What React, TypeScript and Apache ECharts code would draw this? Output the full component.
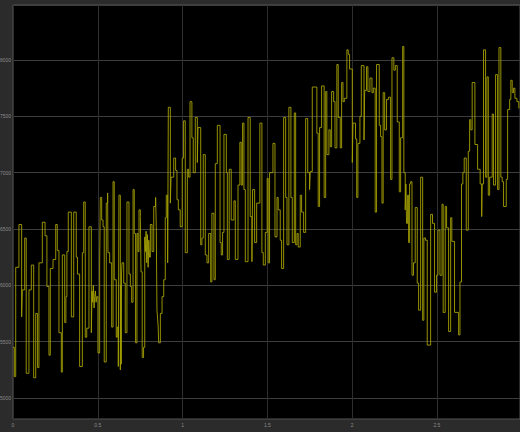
import React, { useEffect, useRef } from "react";
import * as echarts from "echarts";

// Time (s) and value of each held sample, per half second
const seg1Times = [0, 0.008, 0.016, 0.035, 0.051, 0.055, 0.069, 0.078, 0.094, 0.108, 0.122, 0.134, 0.145, 0.153, 0.173, 0.189, 0.2, 0.212, 0.22, 0.236, 0.252, 0.261, 0.271, 0.285, 0.291, 0.305, 0.312, 0.318, 0.326, 0.344, 0.358, 0.373, 0.38, 0.393, 0.409, 0.417, 0.426, 0.435, 0.448, 0.462, 0.466, 0.47, 0.474, 0.478, 0.482, 0.486, 0.49, 0.494];
const seg1Values = [5450, 5190, 6160, 6540, 5720, 5960, 6420, 5220, 5960, 6180, 5180, 5750, 5270, 6200, 6560, 6440, 5990, 5380, 6150, 6230, 6540, 6310, 5580, 5230, 6270, 5670, 5900, 6300, 6650, 5720, 6650, 6250, 6100, 5280, 6290, 6740, 5540, 5620, 6520, 5580, 5950, 5850, 6000, 5800, 5900, 5950, 5850, 5900];

const seg2Times = [0.501, 0.511, 0.515, 0.523, 0.531, 0.538, 0.55, 0.558, 0.56, 0.57, 0.582, 0.59, 0.597, 0.609, 0.615, 0.621, 0.625, 0.633, 0.636, 0.638, 0.64, 0.643, 0.653, 0.662, 0.672, 0.684, 0.692, 0.7, 0.708, 0.715, 0.723, 0.731, 0.737, 0.743, 0.751, 0.755, 0.762, 0.77, 0.777, 0.781, 0.785, 0.789, 0.793, 0.797, 0.801, 0.805, 0.81, 0.82, 0.83, 0.841, 0.845, 0.849, 0.853, 0.856, 0.859, 0.869, 0.879, 0.889, 0.898, 0.904, 0.912, 0.916, 0.928, 0.932, 0.948, 0.959, 0.967, 0.975, 0.986, 0.998];
const seg2Values = [5400, 6180, 6780, 6580, 6520, 5320, 6730, 6820, 6290, 6200, 5630, 6920, 6050, 5540, 5630, 5280, 6800, 5250, 6000, 5300, 6100, 6200, 6020, 5580, 6740, 6100, 5990, 5850, 6850, 6460, 5490, 6460, 6300, 6670, 6610, 6120, 5360, 5450, 6430, 6300, 6480, 6200, 6450, 6160, 6400, 6250, 6540, 6300, 6700, 6780, 6520, 5780, 5700, 5640, 5490, 5750, 5900, 6050, 6600, 6800, 6200, 7580, 6730, 6960, 7130, 7020, 6760, 6670, 6520, 7130];

const seg3Times = [1.006, 1.016, 1.028, 1.036, 1.044, 1.055, 1.063, 1.075, 1.087, 1.091, 1.107, 1.114, 1.122, 1.134, 1.144, 1.154, 1.166, 1.173, 1.185, 1.193, 1.205, 1.221, 1.228, 1.236, 1.244, 1.258, 1.264, 1.275, 1.287, 1.303, 1.311, 1.327, 1.338, 1.346, 1.354, 1.362, 1.37, 1.386, 1.399, 1.409, 1.413, 1.425, 1.437, 1.456, 1.468, 1.476, 1.488, 1.499];
const seg3Values = [7460, 6290, 7030, 6960, 7630, 7310, 7000, 7490, 7090, 7400, 6360, 6420, 7160, 6270, 6200, 6460, 6030, 6640, 6050, 7080, 7420, 6380, 6270, 6470, 7340, 7000, 6230, 7030, 6580, 6750, 6230, 6890, 7270, 6890, 7440, 6850, 6210, 7490, 6610, 6210, 6850, 6380, 6730, 7440, 6290, 6180, 6470, 6950];

const seg4Times = [1.505, 1.513, 1.533, 1.545, 1.557, 1.564, 1.576, 1.584, 1.596, 1.608, 1.616, 1.627, 1.639, 1.647, 1.659, 1.667, 1.675, 1.682, 1.694, 1.702, 1.714, 1.726, 1.738, 1.749, 1.753, 1.765, 1.792, 1.8, 1.808, 1.82, 1.835, 1.844, 1.851, 1.863, 1.871, 1.879, 1.891, 1.899, 1.91, 1.918, 1.93, 1.938, 1.946, 1.954, 1.969, 1.977, 1.985];
const seg4Values = [6200, 7000, 7260, 6430, 6780, 6670, 6400, 6150, 7490, 6780, 6360, 7580, 6780, 6380, 7530, 6360, 6460, 6340, 6800, 6650, 6470, 7480, 7000, 6850, 7010, 7760, 7350, 6700, 7400, 7770, 6780, 7720, 7160, 7380, 7230, 7720, 7630, 7220, 7960, 7490, 7220, 7800, 7630, 7660, 8090, 8050, 7920];

const seg5Times = [2.001, 2.005, 2.02, 2.027, 2.034, 2.046, 2.054, 2.07, 2.074, 2.085, 2.093, 2.105, 2.117, 2.125, 2.136, 2.144, 2.16, 2.168, 2.176, 2.183, 2.192, 2.203, 2.215, 2.227, 2.235, 2.246, 2.255, 2.266, 2.278, 2.286, 2.298, 2.305, 2.313, 2.317, 2.321, 2.327, 2.333, 2.339, 2.345, 2.353, 2.362, 2.372, 2.384, 2.392, 2.404, 2.416, 2.423, 2.433, 2.443, 2.463, 2.474, 2.486, 2.498];
const seg5Values = [7090, 7440, 7300, 6780, 7260, 7500, 7950, 7290, 7730, 7940, 7720, 7840, 7710, 7750, 6650, 7960, 7420, 7320, 6730, 7710, 7380, 7650, 7670, 6940, 8020, 7910, 7950, 7450, 6830, 7310, 8120, 7000, 6670, 6900, 6550, 6800, 6380, 6900, 6920, 6090, 6200, 6690, 6020, 5780, 6960, 5690, 6420, 6400, 5470, 6630, 6550, 5940, 6090];

const seg6Times = [2.506, 2.518, 2.53, 2.537, 2.549, 2.557, 2.569, 2.581, 2.588, 2.604, 2.628, 2.636, 2.645, 2.653, 2.661, 2.673, 2.685, 2.693, 2.7, 2.708, 2.724, 2.74, 2.755, 2.764, 2.767, 2.775, 2.787, 2.795, 2.803, 2.811, 2.826, 2.834, 2.846, 2.858, 2.866, 2.877, 2.885, 2.893, 2.909, 2.917, 2.929, 2.936, 2.944, 2.952, 2.96, 2.972, 2.983];
const seg6Values = [6490, 6090, 6720, 5760, 6700, 6510, 5590, 6600, 6390, 5760, 5560, 6030, 6900, 7000, 7130, 6490, 7190, 7470, 7380, 7800, 7250, 7030, 6900, 6610, 6900, 8090, 6960, 7850, 6800, 6960, 7520, 6890, 7870, 6850, 8110, 6960, 6920, 6700, 6940, 7560, 7650, 7820, 7710, 7750, 7660, 7630, 7570];

const allTimes = [...seg1Times, ...seg2Times, ...seg3Times, ...seg4Times, ...seg5Times, ...seg6Times];
const allValues = [...seg1Values, ...seg2Values, ...seg3Values, ...seg4Values, ...seg5Values, ...seg6Values];

export default function App() {
  const ref = useRef<HTMLDivElement>(null);
  useEffect(() => {
    if (!ref.current) return;
    const chart = echarts.init(ref.current, null, { renderer: "svg" });
    const data = allTimes.map((t, i) => [t, allValues[i]]);
    chart.setOption({
      animation: false,
      backgroundColor: "#2b2b2b",
      grid: {
        left: 13,
        top: 5,
        right: 0,
        bottom: 13,
        containLabel: false,
        outerBoundsMode: "none",
        show: true,
        backgroundColor: "#000000",
        borderColor: "#575757",
        borderWidth: 1,
      },
      xAxis: {
        type: "value",
        min: 0,
        max: 2.99,
        interval: 0.5,
        axisLine: { show: false },
        axisTick: { show: false },
        splitLine: { show: true, lineStyle: { color: "#2e2e2e", width: 1 } },
        axisLabel: {
          color: "#8a8a8a",
          fontSize: 5,
          margin: 3,
          showMaxLabel: false,
          fontFamily: "Liberation Sans",
          formatter: (v: number) => String(v),
        },
      },
      yAxis: {
        type: "value",
        min: 4814,
        max: 8488,
        splitNumber: 7,
        axisLine: { show: false },
        axisTick: { show: false },
        splitLine: { show: true, lineStyle: { color: "#3d3d3d", width: 1 } },
        axisLabel: {
          color: "#8a8a8a",
          fontSize: 5,
          margin: 2,
          showMinLabel: false,
          showMaxLabel: false,
          fontFamily: "Liberation Sans",
          formatter: (v: number) => String(v),
        },
      },
      series: [
        {
          type: "line",
          step: "end",
          data,
          showSymbol: false,
          symbol: "none",
          lineStyle: { color: "#a6a200", width: 0.9 },
        },
      ],
    });
    return () => chart.dispose();
  }, []);
  return (
    <div
      ref={ref}
      style={{ position: "fixed", left: 0, top: 0, width: 520, height: 432 }}
    />
  );
}
